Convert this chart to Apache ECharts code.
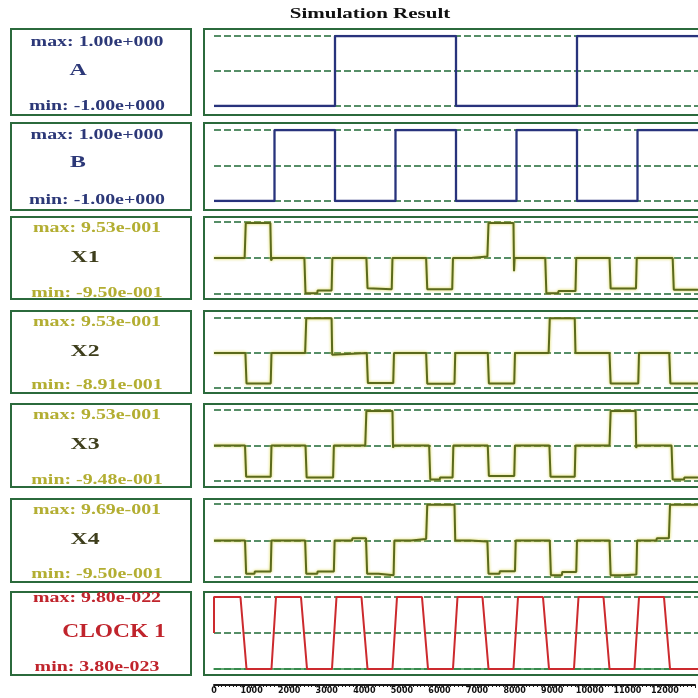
<!DOCTYPE html>
<html>
<head>
<meta charset="utf-8">
<script src="https://cdn.jsdelivr.net/npm/echarts@6/dist/echarts.min.js"></script>
<style>
  html, body { margin: 0; padding: 0; background: #ffffff; }
  #chart { width: 698px; height: 698px; }
</style>
</head>
<body>
<div id="chart"></div>
<script>
// signal names and the max / min readouts in the left boxes
var signalNames = ['A', 'B', 'X1', 'X2', 'X3', 'X4', 'CLOCK 1']
var maxLabels = ['max: 1.00e+000', 'max: 1.00e+000', 'max: 9.53e-001', 'max: 9.53e-001', 'max: 9.53e-001', 'max: 9.69e-001', 'max: 9.80e-022']
var minLabels = ['min: -1.00e+000', 'min: -1.00e+000', 'min: -9.50e-001', 'min: -8.91e-001', 'min: -9.48e-001', 'min: -9.50e-001', 'min: 3.80e-023']

// time axis ticks
var timeTicks = [0, 1000, 2000, 3000, 4000, 5000, 6000, 7000, 8000, 9000, 10000, 11000, 12000]

// waveforms as [time, level], level scaled so -1 = min line, 1 = max line
var sigA = [[0, -1], [3200, -1], [3200, 1], [6400, 1], [6400, -1], [9600, -1], [9600, 1], [12800, 1]]
var sigB = [[0, -1], [1600, -1], [1600, 1], [3200, 1], [3200, -1], [4800, -1], [4800, 1], [6400, 1],
  [6400, -1], [8000, -1], [8000, 1], [9600, 1], [9600, -1], [11200, -1], [11200, 1], [12800, 1]]
var sigX1 = [[0, 0], [810, 0], [840, 0.97], [1490, 0.97], [1510, -0.07], [1540, 0],
  [2390, 0], [2420, -0.98], [2730, -0.98], [2740, -0.9], [3110, -0.9], [3130, 0],
  [4030, 0], [4060, -0.84], [4700, -0.87], [4720, 0],
  [5610, 0], [5640, -0.87], [6300, -0.87], [6320, 0], [6800, 0], [6810, 0.04],
  [7230, 0.04], [7260, 0.97], [7920, 0.97], [7935, -0.37], [7950, 0],
  [8760, 0], [8790, -0.98], [9100, -0.98], [9110, -0.92], [9560, -0.92], [9580, 0],
  [10460, 0], [10490, -0.85], [11160, -0.85], [11180, 0],
  [12130, 0], [12160, -0.88], [12800, -0.88]]
var sigX2 = [[0, 0], [830, 0], [860, -0.87], [1500, -0.87], [1520, 0],
  [2410, 0], [2440, 0.99], [3110, 0.99], [3125, -0.05], [3140, 0],
  [4040, 0], [4070, -0.86], [4740, -0.86], [4760, 0],
  [5610, 0], [5640, -0.88], [6360, -0.88], [6380, 0],
  [7240, 0], [7270, -0.87], [7940, -0.87], [7960, 0],
  [8850, 0], [8880, 0.99], [9540, 0.99], [9560, 0],
  [10460, 0], [10490, -0.87], [11220, -0.87], [11240, 0],
  [12040, 0], [12070, -0.87], [12800, -0.87]]
var sigX3 = [[0, 0], [820, 0], [850, -0.88], [1500, -0.88], [1520, 0],
  [2420, 0], [2450, -0.9], [3150, -0.9], [3170, 0],
  [4000, 0], [4030, 0.97], [4720, 0.97], [4735, -0.06], [4750, 0],
  [5690, 0], [5720, -0.96], [5970, -0.96], [5980, -0.9], [6310, -0.9], [6330, 0],
  [7240, 0], [7270, -0.86], [7940, -0.86], [7960, 0],
  [8870, 0], [8900, -0.88], [9540, -0.88], [9560, 0],
  [10460, 0], [10490, 0.97], [11150, 0.97], [11165, -0.07], [11180, 0],
  [12100, 0], [12130, -0.96], [12430, -0.96], [12440, -0.9], [12800, -0.9]]
var sigX4 = [[0, 0], [820, 0], [850, -0.91], [1070, -0.91], [1080, -0.85], [1500, -0.85], [1520, 0],
  [2410, 0], [2440, -0.91], [2730, -0.91], [2740, -0.85], [3170, -0.85], [3190, 0], [3650, 0], [3660, 0.06],
  [4020, 0.06], [4050, -0.91], [4350, -0.91], [4360, -0.95], [4750, -0.95], [4770, 0], [5220, 0], [5230, 0.04],
  [5610, 0.04], [5640, 0.98], [6360, 0.98], [6380, 0], [6770, 0], [6780, -0.03],
  [7230, -0.03], [7260, -0.91], [7550, -0.91], [7560, -0.84], [7960, -0.84], [7980, 0],
  [8880, 0], [8910, -0.95], [9200, -0.95], [9210, -0.86], [9580, -0.86], [9600, 0],
  [10460, 0], [10490, -0.95], [10830, -0.95], [10840, -0.93], [11170, -0.93], [11190, 0], [11700, 0], [11710, 0.06],
  [12030, 0.06], [12060, 0.98], [12800, 0.98]]
var sigClock = [[0, 0], [0, 1],
  [700, 1], [860, -1], [1520, -1], [1640, 1],
  [2300, 1], [2460, -1], [3120, -1], [3240, 1],
  [3900, 1], [4060, -1], [4720, -1], [4840, 1],
  [5500, 1], [5660, -1], [6320, -1], [6440, 1],
  [7100, 1], [7260, -1], [7920, -1], [8040, 1],
  [8700, 1], [8860, -1], [9520, -1], [9640, 1],
  [10300, 1], [10460, -1], [11120, -1], [11240, 1],
  [11900, 1], [12060, -1], [12800, -1]]

var signals = [sigA, sigB, sigX1, sigX2, sigX3, sigX4, sigClock]

// layout of each row: box top/bottom, plot area top/bottom, text y (max, name, min), name x
var rowLayout = [
  { box: [29, 115], plot: [36, 106], ty: [42, 71, 106], nx: 78 },
  { box: [123, 210], plot: [130, 201], ty: [135, 163, 200], nx: 78 },
  { box: [217, 299], plot: [222, 294], ty: [228, 258, 293], nx: 85 },
  { box: [311, 393], plot: [318, 388], ty: [322, 352, 385], nx: 85 },
  { box: [404, 487], plot: [410, 481], ty: [415, 445, 480], nx: 85 },
  { box: [499, 582], plot: [504, 577], ty: [510, 540, 574], nx: 85 },
  { box: [592, 675], plot: [597, 669], ty: [598, 632, 667], nx: 114 }
]
var navy = '#2c3878'
var rowColors = [
  { lab: navy, name: navy, line: '#28337c' },
  { lab: navy, name: navy, line: '#28337c' },
  { lab: '#b3ae32', name: '#3e3e1c', line: '#5b6a1c' },
  { lab: '#b3ae32', name: '#3e3e1c', line: '#5b6a1c' },
  { lab: '#b3ae32', name: '#3e3e1c', line: '#5b6a1c' },
  { lab: '#b3ae32', name: '#3e3e1c', line: '#5b6a1c' },
  { lab: '#c0242c', name: '#c0242c', line: '#cc2a2e' }
]
var boxGreen = '#2b6a3c'
var gridGreen = '#1f6a36'
var plotLeft = 214
var pxPerUnit = 0.038125
var tMax = 12800

var myChart = echarts.init(document.getElementById('chart'), null, { renderer: 'canvas' })

var grids = []
var xAxes = []
var yAxes = []
var series = []
var elements = []

function serifText(x, y, text, size, color, sx) {
  return {
    type: 'text',
    x: x,
    y: y,
    scaleX: sx,
    silent: true,
    z: 10,
    style: {
      text: text,
      font: 'bold ' + size + 'px "Liberation Serif", "Times New Roman", serif',
      fill: color,
      textAlign: 'center',
      align: 'center',
      textVerticalAlign: 'middle',
      verticalAlign: 'middle'
    }
  }
}

for (var i = 0; i < signals.length; i++) {
  var lay = rowLayout[i]
  var col = rowColors[i]
  var isClock = i === signals.length - 1
  grids.push({
    left: plotLeft,
    top: lay.plot[0],
    width: tMax * pxPerUnit,
    height: lay.plot[1] - lay.plot[0]
  })
  xAxes.push({
    type: 'value',
    gridIndex: i,
    min: 0,
    max: tMax,
    axisLine: { show: isClock, onZero: false, lineStyle: { color: '#2f8a45', width: 1.5 } },
    axisTick: { show: false },
    axisLabel: { show: false },
    splitLine: { show: false }
  })
  yAxes.push({
    type: 'value',
    gridIndex: i,
    min: -1,
    max: 1,
    interval: 1,
    axisLine: { show: false },
    axisTick: { show: false },
    axisLabel: { show: false },
    splitLine: {
      show: true,
      lineStyle: { color: gridGreen, width: 1.5, type: [7, 3] }
    }
  })
  var ls = { color: col.line, width: i < 2 ? 2.3 : 2 }
  if (i >= 2 && !isClock) {
    ls.shadowColor = 'rgba(214,210,50,0.95)'
    ls.shadowBlur = 3
  }
  series.push({
    type: 'line',
    name: signalNames[i],
    xAxisIndex: i,
    yAxisIndex: i,
    data: signals[i],
    symbol: 'none',
    animation: false,
    lineStyle: ls,
    z: 5
  })

  // left label box
  elements.push({
    type: 'rect',
    silent: true,
    shape: { x: 11, y: lay.box[0], width: 180, height: lay.box[1] - lay.box[0] },
    style: { fill: 'none', stroke: boxGreen, lineWidth: 2 }
  })
  // plot frame, runs off the right edge
  elements.push({
    type: 'rect',
    silent: true,
    shape: { x: 204, y: lay.box[0], width: 540, height: lay.box[1] - lay.box[0] },
    style: { fill: 'none', stroke: boxGreen, lineWidth: 2 }
  })
  elements.push(serifText(97, lay.ty[0], maxLabels[i], 14, col.lab, 1.42))
  elements.push(serifText(lay.nx, lay.ty[1], signalNames[i], isClock ? 18 : 17, col.name, isClock ? 1.3 : 1.4))
  elements.push(serifText(97, lay.ty[2], minLabels[i], 14, col.lab, 1.42))
}

// bottom ruler axis
var rulerIndex = signals.length
grids.push({ left: plotLeft, top: 684, width: tMax * pxPerUnit, height: 1 })
xAxes.push({
  type: 'value',
  gridIndex: rulerIndex,
  min: 0,
  max: tMax,
  interval: 1000,
  axisLine: { show: true, lineStyle: { color: '#1a1a1a', width: 2 } },
  axisTick: { show: true, length: 3, lineStyle: { color: '#1a1a1a', width: 1 } },
  minorTick: { show: true, splitNumber: 10, length: 2, lineStyle: { color: '#1a1a1a', width: 1 } },
  axisLabel: {
    show: true,
    margin: 2,
    color: '#111111',
    fontSize: 8,
    fontWeight: 'bold',
    fontFamily: '"DejaVu Sans", sans-serif',
    formatter: function(v) {
      return timeTicks.indexOf(v) > -1 ? String(v) : ''
    }
  },
  splitLine: { show: false }
})
yAxes.push({ type: 'value', gridIndex: rulerIndex, show: false })

elements.push(serifText(370, 14, 'Simulation Result', 14, '#111111', 1.5))

var option = {
  backgroundColor: '#ffffff',
  animation: false,
  grid: grids,
  xAxis: xAxes,
  yAxis: yAxes,
  series: series,
  graphic: { elements: elements }
}
myChart.setOption(option, true)
window.addEventListener('resize', () => {
  myChart.resize()
})
</script>
</body>
</html>
